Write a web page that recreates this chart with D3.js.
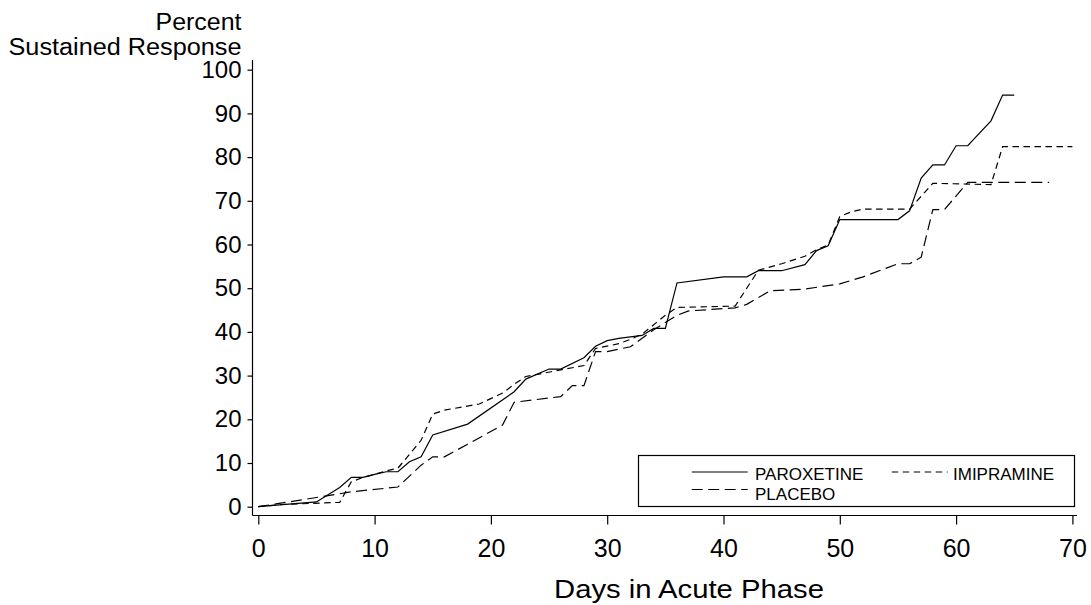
<!DOCTYPE html>
<html>
<head>
<meta charset="utf-8">
<script src="https://cdn.jsdelivr.net/npm/d3@7/dist/d3.min.js"></script>
<style>
  html, body { margin: 0; padding: 0; background: #fff; }
  svg { display: block; font-family: "Liberation Sans", Arial, Helvetica, sans-serif; }
</style>
</head>
<body>
<svg id="chart" width="1091" height="605"></svg>
<script>
// ---- data ----
const xTicks = [0, 10, 20, 30, 40, 50, 60, 70];
const yTicks = [0, 10, 20, 30, 40, 50, 60, 70, 80, 90, 100];

const paroxetineDays = [0, 5, 7, 8, 9, 10, 11, 12, 13, 14, 15, 18, 22, 23, 25, 26, 28, 29, 30, 31, 33, 34, 35, 36, 40, 42, 43, 45, 47, 48, 49, 50, 55, 56, 57, 58, 59, 60, 61, 63, 64, 65];
const paroxetineVals = [0, 1.1, 4.4, 6.7, 6.7, 7.4, 8.0, 8.0, 10.3, 11.4, 16.4, 18.9, 26.3, 29.2, 31.5, 31.5, 34.1, 36.7, 38.0, 38.5, 39.2, 40.8, 40.8, 51.2, 52.6, 52.6, 54.0, 54.0, 55.4, 58.6, 59.7, 65.7, 65.7, 67.7, 75.2, 78.2, 78.2, 82.6, 82.6, 88.3, 94.2, 94.2];

const imipramineDays = [0, 2, 7, 8, 9, 10, 11, 12, 13, 14, 15, 16, 19, 21, 22, 23, 24, 26, 28, 29, 31, 32, 33, 35, 36, 41, 43, 45, 47, 48, 49, 50, 51, 52, 56, 58, 63, 64, 70];
const imipramineVals = [0, 0.5, 1.0, 5.7, 6.7, 7.4, 8.2, 8.8, 12.0, 15.2, 21.2, 22.1, 23.5, 26.0, 28.0, 29.8, 30.3, 31.3, 32.3, 36.2, 37.3, 38.3, 39.5, 43.8, 45.6, 45.9, 54.1, 55.6, 57.3, 58.8, 59.9, 66.4, 67.5, 68.1, 68.1, 74.0, 73.7, 82.4, 82.4];

const placeboDays = [0, 5, 8, 12, 14, 15, 16, 18, 21, 22, 26, 27, 28, 29, 30, 32, 34, 36, 37, 41, 42, 44, 47, 50, 52, 55, 56, 57, 58, 59, 61, 68];
const placeboVals = [0, 2.1, 3.4, 4.5, 9.5, 11.4, 11.4, 14.3, 18.7, 23.9, 25.2, 27.7, 27.7, 35.5, 35.5, 36.6, 40.5, 43.8, 44.8, 45.5, 46.3, 49.4, 49.8, 51.0, 52.6, 55.6, 55.6, 57.1, 68.0, 68.0, 74.2, 74.2];

const seriesNames = ["PAROXETINE", "IMIPRAMINE", "PLACEBO"];

// ---- chart ----
const svg = d3.select("#chart");
const font = "'Liberation Sans', Arial, Helvetica, sans-serif";

const x = d3.scaleLinear().domain([0, 70]).range([258.3, 1072.4]);
const y = d3.scaleLinear().domain([0, 100]).range([506.7, 69.7]);

const axisX = 252.5, axisY = 515.5;

// axis lines
svg.append("line").attr("x1", axisX).attr("x2", axisX).attr("y1", 60).attr("y2", axisY)
  .attr("stroke", "#000").attr("stroke-width", 1.2);
svg.append("line").attr("x1", axisX).attr("x2", 1077).attr("y1", axisY).attr("y2", axisY)
  .attr("stroke", "#000").attr("stroke-width", 1.2);

// y axis
const gy = svg.append("g").attr("transform", `translate(${axisX},0)`)
  .call(d3.axisLeft(y).tickValues(yTicks).tickSize(5).tickPadding(6).tickFormat(d3.format("d")));
gy.select(".domain").remove();
gy.selectAll(".tick line").attr("stroke", "#000").attr("stroke-width", 1.2);
gy.selectAll(".tick text").attr("font-size", 24).attr("font-family", font).attr("fill", "#000");

// x axis
const gx = svg.append("g").attr("transform", `translate(0,${axisY})`)
  .call(d3.axisBottom(x).tickValues(xTicks).tickSize(9).tickPadding(6).tickFormat(d3.format("d")));
gx.select(".domain").remove();
gx.selectAll(".tick line").attr("stroke", "#000").attr("stroke-width", 1.2);
gx.selectAll(".tick text").attr("font-size", 25).attr("font-family", font).attr("fill", "#000")
  .attr("y", 24);

// titles
svg.append("text").attr("x", 241.5).attr("y", 30).attr("text-anchor", "end")
  .attr("font-size", 23).attr("font-family", font)
  .attr("textLength", 86).attr("lengthAdjust", "spacingAndGlyphs").text("Percent");
svg.append("text").attr("x", 241.5).attr("y", 55).attr("text-anchor", "end")
  .attr("font-size", 23).attr("font-family", font)
  .attr("textLength", 233).attr("lengthAdjust", "spacingAndGlyphs").text("Sustained Response");
svg.append("text").attr("x", 689).attr("y", 598).attr("text-anchor", "middle")
  .attr("font-size", 25).attr("font-family", font)
  .attr("textLength", 270).attr("lengthAdjust", "spacingAndGlyphs").text("Days in Acute Phase");

// lines
const line = d3.line().x(d => x(d[0])).y(d => y(d[1]));
const styles = {
  PAROXETINE: { dash: null },
  IMIPRAMINE: { dash: "6.5,4.5" },
  PLACEBO: { dash: "11,5.5" }
};
const series = [
  { name: seriesNames[0], pts: d3.zip(paroxetineDays, paroxetineVals) },
  { name: seriesNames[1], pts: d3.zip(imipramineDays, imipramineVals) },
  { name: seriesNames[2], pts: d3.zip(placeboDays, placeboVals) }
];
svg.append("g").selectAll("path").data(series).join("path")
  .attr("d", d => line(d.pts))
  .attr("fill", "none").attr("stroke", "#000").attr("stroke-width", 1.2)
  .attr("stroke-dasharray", d => styles[d.name].dash);

// legend
const lg = svg.append("g");
lg.append("rect").attr("x", 638.5).attr("y", 455.5).attr("width", 436).attr("height", 51)
  .attr("fill", "#fff").attr("stroke", "#000").attr("stroke-width", 1.2);
const legendItems = [
  { name: seriesNames[0], lx: 691.7, ly: 472, tx: 755, ty: 480 },
  { name: seriesNames[1], lx: 891.7, ly: 472, tx: 953, ty: 480 },
  { name: seriesNames[2], lx: 691.7, ly: 489.5, tx: 755, ty: 499.5 }
];
legendItems.forEach(it => {
  lg.append("line").attr("x1", it.lx).attr("x2", it.lx + 56).attr("y1", it.ly).attr("y2", it.ly)
    .attr("stroke", "#000").attr("stroke-width", 1.2).attr("stroke-dasharray", styles[it.name].dash);
  lg.append("text").attr("x", it.tx).attr("y", it.ty).attr("font-size", 17)
    .attr("font-family", font).text(it.name);
});
</script>
</body>
</html>
